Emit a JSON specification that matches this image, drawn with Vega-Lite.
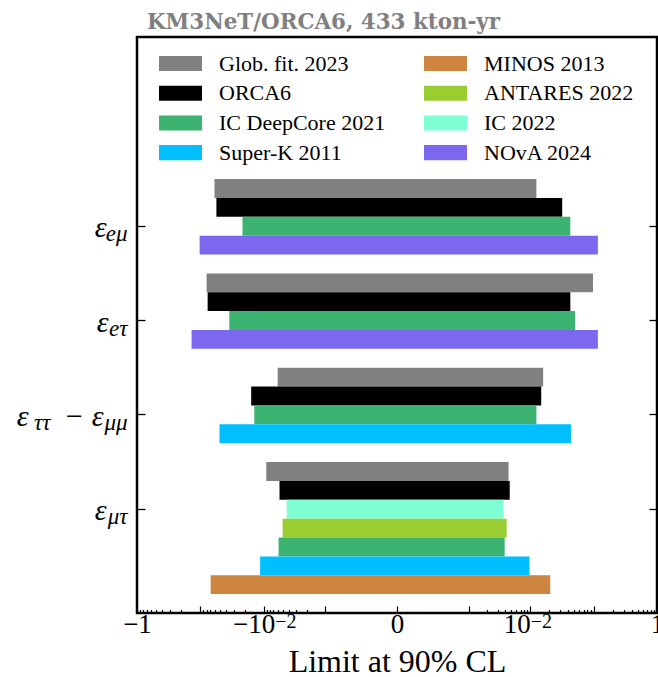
{
  "$schema": "https://vega.github.io/schema/vega-lite/v6.json",
  "width": 520,
  "height": 576,
  "autosize": "none",
  "padding": {"left": 137, "top": 37, "right": 1, "bottom": 64},
  "background": "white",
  "title": {
    "text": "KM3NeT/ORCA6, 433 kton-yr",
    "anchor": "start",
    "frame": "group",
    "font": "DejaVu Serif",
    "fontWeight": "bold",
    "fontSize": 21.4,
    "color": "#808080",
    "baseline": "alphabetic",
    "offset": 11,
    "dx": 10,
    "dy": 24
  },
  "data": {
    "values": [
      {"key": "eμ|Glob. fit. 2023", "param": "eμ", "exp": "Glob. fit. 2023", "lo": -0.060, "hi": 0.0125},
      {"key": "eμ|ORCA6", "param": "eμ", "exp": "ORCA6", "lo": -0.056, "hi": 0.032},
      {"key": "eμ|IC DeepCore 2021", "param": "eμ", "exp": "IC DeepCore 2021", "lo": -0.0217, "hi": 0.043},
      {"key": "eμ|NOvA 2024", "param": "eμ", "exp": "NOvA 2024", "lo": -0.103, "hi": 0.117},
      {"key": "eτ|Glob. fit. 2023", "param": "eτ", "exp": "Glob. fit. 2023", "lo": -0.080, "hi": 0.098},
      {"key": "eτ|ORCA6", "param": "eτ", "exp": "ORCA6", "lo": -0.077, "hi": 0.043},
      {"key": "eτ|IC DeepCore 2021", "param": "eτ", "exp": "IC DeepCore 2021", "lo": -0.035, "hi": 0.051},
      {"key": "eτ|NOvA 2024", "param": "eτ", "exp": "NOvA 2024", "lo": -0.138, "hi": 0.117},
      {"key": "ττ−μμ|Glob. fit. 2023", "param": "ττ−μμ", "exp": "Glob. fit. 2023", "lo": -0.0060, "hi": 0.016},
      {"key": "ττ−μμ|ORCA6", "param": "ττ−μμ", "exp": "ORCA6", "lo": -0.0158, "hi": 0.0149},
      {"key": "ττ−μμ|IC DeepCore 2021", "param": "ττ−μμ", "exp": "IC DeepCore 2021", "lo": -0.0141, "hi": 0.0125},
      {"key": "ττ−μμ|Super-K 2011", "param": "ττ−μμ", "exp": "Super-K 2011", "lo": -0.050, "hi": 0.044},
      {"key": "μτ|Glob. fit. 2023", "param": "μτ", "exp": "Glob. fit. 2023", "lo": -0.0091, "hi": 0.0045},
      {"key": "μτ|ORCA6", "param": "μτ", "exp": "ORCA6", "lo": -0.0056, "hi": 0.0047},
      {"key": "μτ|IC 2022", "param": "μτ", "exp": "IC 2022", "lo": -0.0043, "hi": 0.0037},
      {"key": "μτ|ANTARES 2022", "param": "μτ", "exp": "ANTARES 2022", "lo": -0.0050, "hi": 0.0042},
      {"key": "μτ|IC DeepCore 2021", "param": "μτ", "exp": "IC DeepCore 2021", "lo": -0.0058, "hi": 0.0039},
      {"key": "μτ|Super-K 2011", "param": "μτ", "exp": "Super-K 2011", "lo": -0.0114, "hi": 0.0097},
      {"key": "μτ|MINOS 2013", "param": "μτ", "exp": "MINOS 2013", "lo": -0.069, "hi": 0.0207}
    ]
  },
  "layer": [
    {
      "mark": {"type": "bar"},
      "encoding": {
        "y": {
          "field": "key",
          "type": "nominal",
          "scale": {
            "domain": [
              "p1", "p2", "p3", "p4", "p5", "p6", "p7",
              "eμ|Glob. fit. 2023", "eμ|ORCA6", "eμ|IC DeepCore 2021", "eμ|NOvA 2024", "gap1",
              "eτ|Glob. fit. 2023", "eτ|ORCA6", "eτ|IC DeepCore 2021", "eτ|NOvA 2024", "gap2",
              "ττ−μμ|Glob. fit. 2023", "ττ−μμ|ORCA6", "ττ−μμ|IC DeepCore 2021", "ττ−μμ|Super-K 2011", "gap3",
              "μτ|Glob. fit. 2023", "μτ|ORCA6", "μτ|IC 2022", "μτ|ANTARES 2022", "μτ|IC DeepCore 2021", "μτ|Super-K 2011", "μτ|MINOS 2013"
            ],
            "paddingInner": 0,
            "paddingOuter": 0.765,
            "align": 0.346,
            "round": false
          },
          "axis": {
            "orient": "left",
            "values": ["eμ|IC DeepCore 2021", "eτ|IC DeepCore 2021", "ττ−μμ|IC DeepCore 2021", "μτ|IC 2022"],
            "labelExpr": "'ε'",
            "title": null,
            "domain": false,
            "grid": false,
            "tickSize": -8,
            "tickWidth": 1.3,
            "tickColor": "black",
            "labelFont": "Liberation Serif",
            "labelFontStyle": "italic",
            "labelFontSize": 30,
            "labelColor": "black",
            "labelAlign": "right",
            "labelBaseline": "alphabetic",
            "labelOffset": 11,
            "labelPadding": {"condition": [{"test": "datum.value == 'ττ−μμ|IC DeepCore 2021'", "value": 117}, {"test": "datum.value == 'eτ|IC DeepCore 2021'", "value": 37}], "value": 39}
          }
        },
        "x": {
          "field": "lo",
          "type": "quantitative",
          "scale": {"type": "symlog", "constant": 0.00008, "domain": [-1, 1], "nice": false},
          "axis": {
            "orient": "bottom",
            "values": [-1, -0.9, -0.8, -0.7, -0.6, -0.5, -0.4, -0.3, -0.2, -0.1, -0.09, -0.08, -0.07, -0.06, -0.05, -0.04, -0.03, -0.02, -0.01, -0.009, -0.008, -0.007, -0.006, -0.005, -0.004, -0.003, -0.002, -0.001, 0, 0.001, 0.002, 0.003, 0.004, 0.005, 0.006, 0.007, 0.008, 0.009, 0.01, 0.02, 0.03, 0.04, 0.05, 0.06, 0.07, 0.08, 0.09, 0.1, 0.2, 0.3, 0.4, 0.5, 0.6, 0.7, 0.8, 0.9, 1],
            "labelExpr": "datum.value == -1 ? '−1' : datum.value == -0.01 ? '−10' : datum.value == 0 ? '0' : datum.value == 0.01 ? '10' : datum.value == 1 ? '1' : ''",
            "tickSize": {"condition": {"test": "indexof([-1, -0.1, -0.01, -0.001, 0, 0.001, 0.01, 0.1, 1], datum.value) >= 0", "value": -7}, "value": -3.5},
            "tickWidth": 1.2,
            "tickColor": "black",
            "domain": false,
            "grid": false,
            "labelOverlap": false,
            "labelFlush": false,
            "labelBound": false,
            "labelFont": "Liberation Serif",
            "labelFontSize": 27,
            "labelColor": "black",
            "labelPadding": 5,
            "labelAlign": {"condition": {"test": "abs(datum.value) == 0.01", "value": "right"}, "value": "center"},
            "labelOffset": {"condition": {"test": "datum.value == -0.01", "value": 11}, "value": 0},
            "title": "Limit at 90% CL",
            "titleFont": "Liberation Serif",
            "titleFontSize": 32,
            "titleFontWeight": "normal",
            "titleColor": "black",
            "titlePadding": 6
          }
        },
        "x2": {"field": "hi"},
        "color": {
          "field": "exp",
          "type": "nominal",
          "scale": {
            "domain": ["Glob. fit. 2023", "ORCA6", "IC DeepCore 2021", "Super-K 2011", "MINOS 2013", "ANTARES 2022", "IC 2022", "NOvA 2024"],
            "range": ["#808080", "#000000", "#3CB371", "#00BFFF", "#CD853F", "#9ACD32", "#7FFFD4", "#7B68EE"]
          },
          "legend": {
            "orient": "none",
            "legendX": 22,
            "legendY": 12.5,
            "columns": 2,
            "title": null,
            "symbolType": "M-1,-0.35H1V0.35H-1Z",
            "symbolSize": 1849,
            "symbolStrokeWidth": 0,
            "symbolOpacity": 1,
            "labelFont": "Liberation Serif",
            "labelFontSize": 22,
            "labelColor": "black",
            "labelOffset": 17,
            "labelLimit": 400,
            "clipHeight": 28,
            "rowPadding": 1.7,
            "columnPadding": 38,
            "padding": 0
          }
        }
      }
    },
    {
      "mark": {"type": "point", "opacity": 0},
      "encoding": {
        "y": {
          "field": "key",
          "type": "nominal",
          "axis": {
            "orient": "left",
            "values": ["eμ|IC DeepCore 2021", "eτ|IC DeepCore 2021", "ττ−μμ|IC DeepCore 2021", "μτ|IC 2022"],
            "labelExpr": "datum.value == 'ττ−μμ|IC DeepCore 2021' ? 'μμ' : split(datum.value, '|')[0]",
            "title": null,
            "domain": false,
            "grid": false,
            "ticks": false,
            "labelFont": "Liberation Serif",
            "labelFontStyle": "italic",
            "labelFontSize": 23,
            "labelColor": "black",
            "labelAlign": "right",
            "labelBaseline": "alphabetic",
            "labelOffset": 15,
            "labelPadding": 10
          }
        }
      }
    },
    {
      "mark": {"type": "point", "opacity": 0},
      "encoding": {
        "y": {
          "field": "key",
          "type": "nominal",
          "axis": {
            "orient": "left",
            "values": ["ττ−μμ|IC DeepCore 2021"],
            "labelExpr": "'− ε'",
            "title": null,
            "domain": false,
            "grid": false,
            "ticks": false,
            "labelFont": "Liberation Serif",
            "labelFontStyle": "italic",
            "labelFontSize": 30,
            "labelColor": "black",
            "labelAlign": "right",
            "labelBaseline": "alphabetic",
            "labelOffset": 11,
            "labelPadding": 34
          }
        }
      }
    },
    {
      "mark": {"type": "point", "opacity": 0},
      "encoding": {
        "y": {
          "field": "key",
          "type": "nominal",
          "axis": {
            "orient": "left",
            "values": ["ττ−μμ|IC DeepCore 2021"],
            "labelExpr": "'ττ'",
            "title": null,
            "domain": false,
            "grid": false,
            "ticks": false,
            "labelFont": "Liberation Serif",
            "labelFontStyle": "italic",
            "labelFontSize": 23,
            "labelColor": "black",
            "labelAlign": "right",
            "labelBaseline": "alphabetic",
            "labelOffset": 15,
            "labelPadding": 87
          }
        }
      }
    },
    {
      "mark": {"type": "point", "opacity": 0},
      "encoding": {
        "x": {
          "field": "lo",
          "type": "quantitative",
          "axis": {
            "orient": "bottom",
            "values": [-0.01, 0.01],
            "labelExpr": "'−2'",
            "title": null,
            "domain": false,
            "grid": false,
            "ticks": false,
            "labelOverlap": false,
            "labelFlush": false,
            "labelBound": false,
            "labelFont": "Liberation Serif",
            "labelFontSize": 20,
            "labelColor": "black",
            "labelAlign": "left",
            "labelBaseline": "alphabetic",
            "labelPadding": 14,
            "labelOffset": {"condition": {"test": "datum.value == -0.01", "value": 11}, "value": 0}
          }
        },
        "y": {
          "field": "key",
          "type": "nominal",
          "axis": {
            "orient": "right",
            "values": ["eμ|IC DeepCore 2021", "eτ|IC DeepCore 2021", "ττ−μμ|IC DeepCore 2021", "μτ|IC 2022"],
            "labels": false,
            "title": null,
            "domain": false,
            "grid": false,
            "tickSize": -8,
            "tickWidth": 1.3,
            "tickColor": "black"
          }
        }
      }
    }
  ],
  "resolve": {"axis": {"y": "independent", "x": "independent"}},
  "config": {
    "view": {"stroke": "black", "strokeWidth": 2.5},
    "font": "Liberation Serif"
  }
}
